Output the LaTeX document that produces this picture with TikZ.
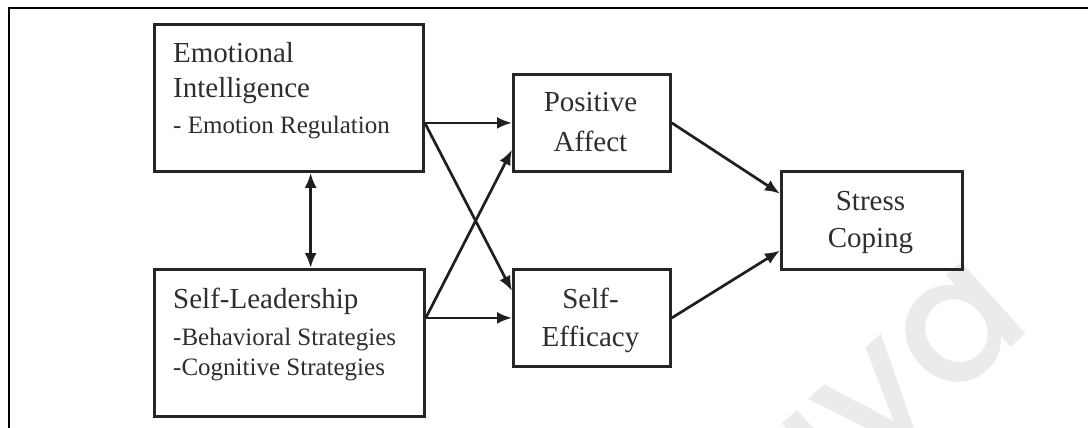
\documentclass[tikz,border=0pt]{standalone}
\usepackage{fontspec}
\setmainfont{Liberation Serif}
\newfontfamily\wmfont{Poppins Medium}
\usetikzlibrary{arrows.meta,calc}

\tikzset{
  box/.style={draw=black!85, line width=2.8pt, anchor=north west, inner sep=0pt},
  link/.style={draw=black!88, line width=2.7pt, -{Latex[length=15pt,width=12pt]}},
  biglabel/.style={text=black!82, font=\fontsize{29}{29}\selectfont, inner sep=0pt},
  smalllabel/.style={text=black!82, font=\fontsize{25}{25}\selectfont, inner sep=0pt},
}

\begin{document}
\begin{tikzpicture}[x=1pt, y=-1pt]
  \useasboundingbox (0,0) rectangle (1088,428);
  \fill[white] (0,0) rectangle (1088,428);

  % faint watermark lettering
  \begin{scope}
    \clip (0,0) rectangle (1088,428);
    \node[rotate=42, text=black!8, font=\wmfont\fontsize{175}{175}\selectfont, inner sep=0pt]
      (wm) at (892,419) {aya};
  \end{scope}

  % outer frame (top and left edges)
  \draw[line width=2pt, black] (1090,8) -- (9,8) -- (9,430);

  % boxes
  \node[box, minimum width=269pt, minimum height=147pt] (ei) at (153,23) {};
  \node[box, minimum width=270pt, minimum height=147pt] (sl) at (153,268) {};
  \node[box, minimum width=157pt, minimum height=97pt] (pa) at (512,73) {};
  \node[box, minimum width=157pt, minimum height=97pt] (se) at (512,268) {};
  \node[box, minimum width=181pt, minimum height=98pt] (sc) at (780,170) {};

  % box texts
  \node[biglabel, anchor=base west] (ei1) at (173,63) {Emotional};
  \node[biglabel, anchor=base west] (ei2) at (173,98) {Intelligence};
  \node[smalllabel, anchor=base west] (ei3) at (173,133) {- Emotion Regulation};

  \node[biglabel, anchor=base west] (sl1) at (173,308) {Self-Leadership};
  \node[smalllabel, anchor=base west] (sl2) at (173,345) {-Behavioral Strategies};
  \node[smalllabel, anchor=base west] (sl3) at (173,375) {-Cognitive Strategies};

  \node[biglabel, anchor=base] (pa1) at (590.5,112) {Positive};
  \node[biglabel, anchor=base] (pa2) at (590.5,151) {Affect};

  \node[biglabel, anchor=base] (se1) at (590.5,308) {Self-};
  \node[biglabel, anchor=base] (se2) at (590.5,346) {Efficacy};

  \node[biglabel, anchor=base] (sc1) at (870.5,210) {Stress};
  \node[biglabel, anchor=base] (sc2) at (870.5,247) {Coping};

  % connectors
  \coordinate (eiout) at (ei.east |- pa.west);
  \coordinate (slout) at (sl.east |- se.west);
  \coordinate (vtop) at ($(ei.south west)!0.58!(ei.south east)$);

  \draw[link] (eiout) -- (pa.west);
  \draw[link] (eiout) -- ($(se.north west)!0.23!(se.south west)$);
  \draw[link] (slout) -- (se.west);
  \draw[link] (slout) -- ($(pa.north west)!0.77!(pa.south west)$);
  \draw[link] (pa.east) -- ($(sc.north west)!0.235!(sc.south west)$);
  \draw[link] (se.east) -- ($(sc.north west)!0.8!(sc.south west)$);
  \draw[link, {Latex[length=15pt,width=12pt]}-{Latex[length=15pt,width=12pt]}]
    (vtop) -- (vtop |- sl.north);
\end{tikzpicture}
\end{document}
